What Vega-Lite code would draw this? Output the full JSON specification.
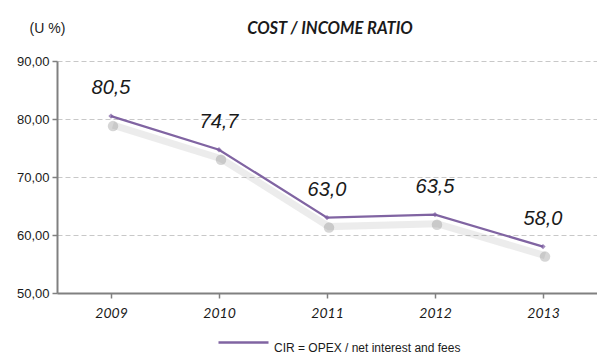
{
  "$schema": "https://vega.github.io/schema/vega-lite/v6.json",
  "autosize": "none",
  "width": 540,
  "height": 232,
  "padding": {"left": 57, "top": 61, "right": 0, "bottom": 61},
  "background": "white",
  "config": {"view": {"stroke": null}},
  "title": {
    "text": "COST / INCOME RATIO",
    "font": "Lato",
    "fontSize": 16.5,
    "fontWeight": "bold",
    "fontStyle": "italic",
    "color": "#1a1a1a",
    "anchor": "middle",
    "frame": "group",
    "offset": 0,
    "dy": 16,
    "dx": 3
  },
  "data": {
    "values": [
      {"year": "2009", "value": 80.5, "label": "80,5", "series": "CIR = OPEX / net interest and fees"},
      {"year": "2010", "value": 74.7, "label": "74,7", "series": "CIR = OPEX / net interest and fees"},
      {"year": "2011", "value": 63.0, "label": "63,0", "series": "CIR = OPEX / net interest and fees"},
      {"year": "2012", "value": 63.5, "label": "63,5", "series": "CIR = OPEX / net interest and fees"},
      {"year": "2013", "value": 58.0, "label": "58,0", "series": "CIR = OPEX / net interest and fees"}
    ]
  },
  "encoding": {
    "x": {
      "field": "year",
      "type": "ordinal",
      "scale": {"paddingInner": 0, "paddingOuter": 0},
      "axis": {
        "title": null,
        "labelAngle": 0,
        "labelFont": "Lato",
        "labelFontStyle": "italic",
        "labelFontSize": 14,
        "labelColor": "#1a1a1a",
        "labelPadding": 8,
        "domainColor": "#808080",
        "domainWidth": 2,
        "tickColor": "#808080",
        "tickWidth": 1.5,
        "tickSize": 5,
        "bandPosition": 0,
        "grid": false
      }
    },
    "y": {
      "field": "value",
      "type": "quantitative",
      "scale": {"domain": [50, 90], "nice": false, "zero": false},
      "axis": {
        "values": [50, 60, 70, 80, 90],
        "labelExpr": "replace(format(datum.value, '.2f'), '.', ',')",
        "labelFont": "Liberation Sans",
        "labelFontSize": 13,
        "labelColor": "#1a1a1a",
        "labelPadding": 3,
        "domainColor": "#808080",
        "domainWidth": 2,
        "tickColor": "#808080",
        "tickWidth": 1.5,
        "tickSize": 5,
        "gridColor": "#c8c8c8",
        "gridDash": [5, 3],
        "gridWidth": 1,
        "title": "(U %)",
        "titleAngle": 0,
        "titleFont": "Liberation Sans",
        "titleFontSize": 14,
        "titleFontWeight": "normal",
        "titleColor": "#1a1a1a",
        "titleX": -10,
        "titleY": -33,
        "titleAlign": "center",
        "titleBaseline": "middle"
      }
    }
  },
  "layer": [
    {
      "mark": {"type": "line", "color": "#888888", "strokeWidth": 7, "opacity": 0.16, "yOffset": 9, "xOffset": 2},
      "encoding": {}
    },
    {
      "mark": {"type": "point", "shape": "circle", "filled": true, "color": "#777777", "size": 110, "opacity": 0.3, "yOffset": 10, "xOffset": 2},
      "encoding": {}
    },
    {
      "mark": {"type": "line", "strokeWidth": 2.3},
      "encoding": {
        "color": {
          "field": "series",
          "type": "nominal",
          "scale": {"range": ["#8064a2"]},
          "legend": {
            "title": null,
            "orient": "none",
            "legendX": 160,
            "legendY": 255,
            "symbolType": "stroke",
            "symbolSize": 2500,
            "symbolStrokeWidth": 2.5,
            "labelFont": "Liberation Sans",
            "labelFontSize": 12,
            "labelColor": "#1a1a1a",
            "labelOffset": 4,
            "labelLimit": 400,
            "labelBaseline": "top"
          }
        }
      }
    },
    {
      "mark": {"type": "point", "shape": "diamond", "filled": true, "color": "#7a5ba0", "size": 28},
      "encoding": {}
    },
    {
      "mark": {"type": "text", "font": "Liberation Sans", "fontSize": 20, "fontStyle": "italic", "color": "#1a1a1a", "baseline": "middle", "dy": -28},
      "encoding": {"text": {"field": "label"}}
    }
  ]
}
